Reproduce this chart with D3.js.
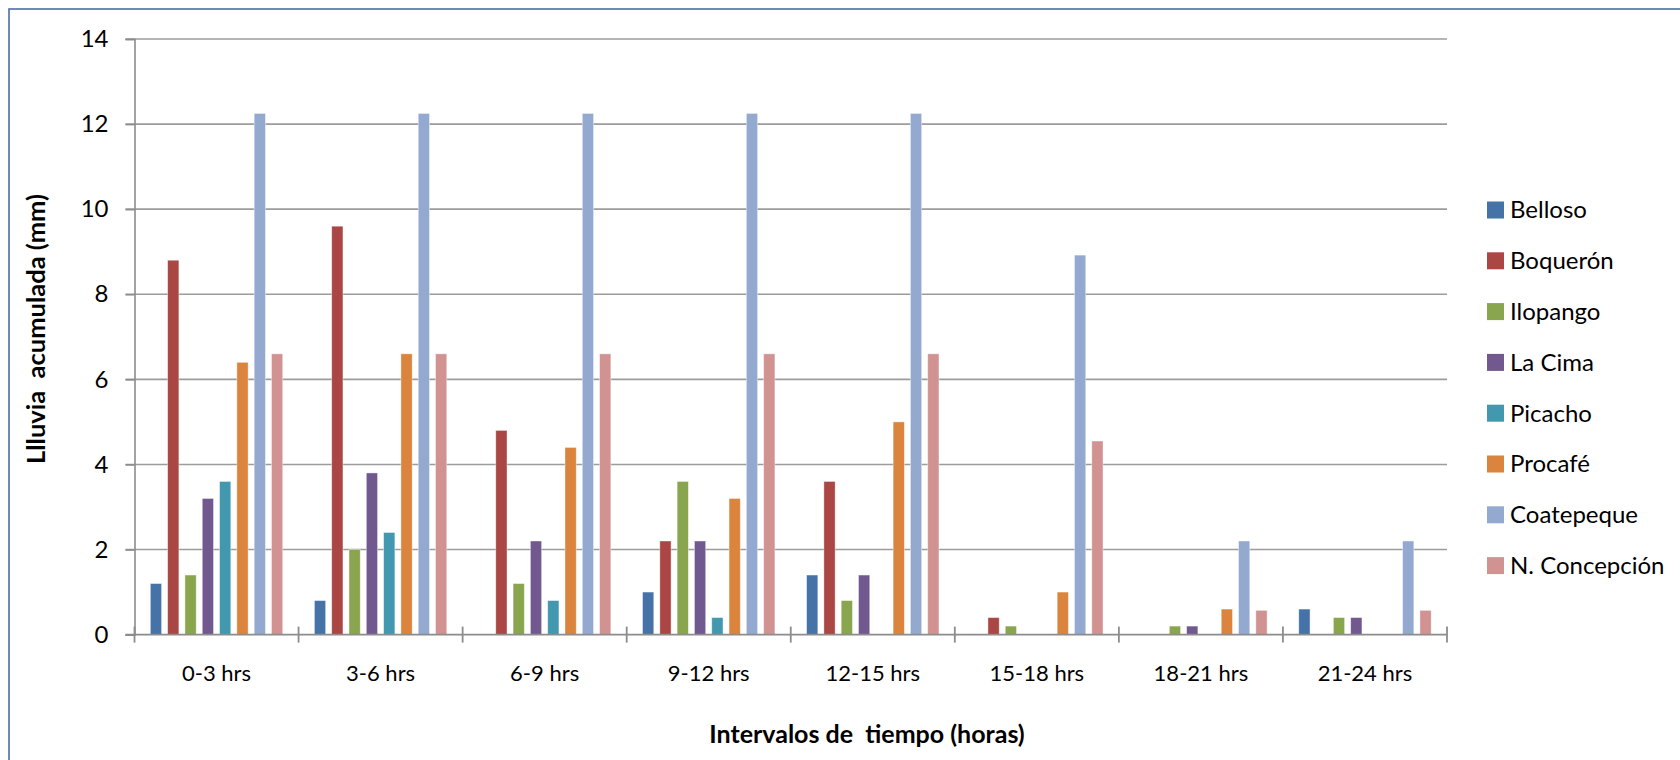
<!DOCTYPE html>
<html>
<head>
<meta charset="utf-8">
<script src="https://cdn.jsdelivr.net/npm/d3@7"></script>
<style>
  html, body { margin: 0; padding: 0; background: #fff; }
  svg { display: block; }
  text { font-family: Lato, "Liberation Sans", sans-serif; fill: #000; }
</style>
</head>
<body>
<svg id="chart" width="1680" height="760"></svg>
<script>
const categories = ["0-3 hrs", "3-6 hrs", "6-9 hrs", "9-12 hrs", "12-15 hrs", "15-18 hrs", "18-21 hrs", "21-24 hrs"];
const seriesNames = ["Belloso", "Boquerón", "Ilopango", "La Cima", "Picacho", "Procafé", "Coatepeque", "N. Concepción"];
const belloso     = [1.2, 0.8, 0,   1.0, 1.4, 0,    0,   0.6];
const boqueron    = [8.8, 9.6, 4.8, 2.2, 3.6, 0.4,  0,   0];
const ilopango    = [1.4, 2.0, 1.2, 3.6, 0.8, 0.2,  0.2, 0.4];
const laCima      = [3.2, 3.8, 2.2, 2.2, 1.4, 0,    0.2, 0.4];
const picacho     = [3.6, 2.4, 0.8, 0.4, 0,   0,    0,   0];
const procafe     = [6.4, 6.6, 4.4, 3.2, 5.0, 1.0,  0.6, 0];
const coatepeque  = [12.25, 12.25, 12.25, 12.25, 12.25, 8.92, 2.2, 2.2];
const nConcepcion = [6.6, 6.6, 6.6, 6.6, 6.6, 4.55, 0.57, 0.57];
const yTicks = [0, 2, 4, 6, 8, 10, 12, 14];
const colors = ["#4572A7", "#AA4643", "#89A54E", "#71588F", "#4198AF", "#DB843D", "#93A9CF", "#D19392"];
const yTitle = "Llluvia  acumulada (mm)";
const xTitle = "Intervalos de  tiempo (horas)";

const seriesValues = [belloso, boqueron, ilopango, laCima, picacho, procafe, coatepeque, nConcepcion];

const svg = d3.select("#chart");

// outer frame
svg.append("rect")
  .attr("x", 9).attr("y", 9).attr("width", 1720).attr("height", 800)
  .attr("fill", "none").attr("stroke", "#4a6fa5").attr("stroke-width", 1.6);

const plot = { left: 134.5, right: 1447, top: 39, bottom: 634.6 };

const x0 = d3.scaleBand().domain(categories).range([plot.left, plot.right]).padding(0);
const x1 = d3.scaleBand().domain(seriesNames).range([0, x0.bandwidth()])
  .paddingInner(0.35).paddingOuter(0.915);
const y = d3.scaleLinear().domain([0, 14]).range([plot.bottom, plot.top]);

// gridlines
svg.append("g").selectAll("line").data(yTicks.filter(d => d > 0)).join("line")
  .attr("x1", plot.left - 9).attr("x2", plot.right)
  .attr("y1", d => y(d)).attr("y2", d => y(d))
  .attr("stroke", "#9c9c9c").attr("stroke-width", 1.6);

// y axis
const yAxis = d3.axisLeft(y).tickValues(yTicks).tickSize(9).tickPadding(17).tickFormat(d3.format("d"));
const gy = svg.append("g").attr("transform", `translate(${plot.left},0)`).call(yAxis);
gy.select(".domain").attr("stroke", "#8c8c8c").attr("stroke-width", 1.6);
gy.selectAll(".tick line").attr("stroke", "#8c8c8c").attr("stroke-width", 1.6);
gy.selectAll(".tick text").attr("font-size", 24).attr("font-family", "Lato, sans-serif").attr("fill", "#000");

// bars
const rows = categories.map((c, i) => ({ cat: c, vals: seriesNames.map((s, j) => ({ s, v: seriesValues[j][i], j })) }));
const groups = svg.append("g").selectAll("g").data(rows).join("g")
  .attr("transform", d => `translate(${x0(d.cat)},0)`);
groups.selectAll("rect").data(d => d.vals.filter(e => e.v > 0)).join("rect")
  .attr("x", d => x1(d.s))
  .attr("width", x1.bandwidth())
  .attr("y", d => y(d.v))
  .attr("height", d => y(0) - y(d.v))
  .attr("fill", d => colors[d.j])
  .attr("stroke", "#ffffff").attr("stroke-opacity", 0.5).attr("stroke-width", 0.8);

// x axis
const xTickPos = categories.map(c => x0(c)).concat([plot.right]);
const gx = svg.append("g");
gx.append("line")
  .attr("x1", plot.left - 9).attr("x2", plot.right)
  .attr("y1", y(0)).attr("y2", y(0))
  .attr("stroke", "#8c8c8c").attr("stroke-width", 1.8);
gx.selectAll("line.tk").data(xTickPos).join("line").attr("class", "tk")
  .attr("x1", d => d).attr("x2", d => d)
  .attr("y1", y(0) - 8).attr("y2", y(0) + 8)
  .attr("stroke", "#8c8c8c").attr("stroke-width", 1.8);
gx.selectAll("text").data(categories).join("text")
  .attr("x", d => x0(d) + x0.bandwidth() / 2)
  .attr("y", 673)
  .attr("dy", "0.35em")
  .attr("text-anchor", "middle")
  .attr("font-size", 22)
  .text(d => d);

// axis titles
svg.append("text")
  .attr("transform", "translate(36,329) rotate(-90)")
  .attr("text-anchor", "middle").attr("dy", "0.35em")
  .attr("font-size", 25.5).attr("font-weight", "bold")
  .style("white-space", "pre")
  .text(yTitle);
svg.append("text")
  .attr("x", 867).attr("y", 734).attr("dy", "0.35em")
  .attr("text-anchor", "middle")
  .attr("font-size", 25).attr("font-weight", "bold")
  .style("white-space", "pre")
  .text(xTitle);

// legend
const legend = svg.append("g").selectAll("g").data(seriesNames).join("g")
  .attr("transform", (d, i) => `translate(1487,${210 + i * 50.8})`);
legend.append("rect")
  .attr("x", 0).attr("y", -8.5).attr("width", 17).attr("height", 17)
  .attr("fill", (d, i) => colors[i]);
legend.append("text")
  .attr("x", 23).attr("y", 0).attr("dy", "0.35em")
  .attr("font-size", 24)
  .text(d => d);
</script>
</body>
</html>
